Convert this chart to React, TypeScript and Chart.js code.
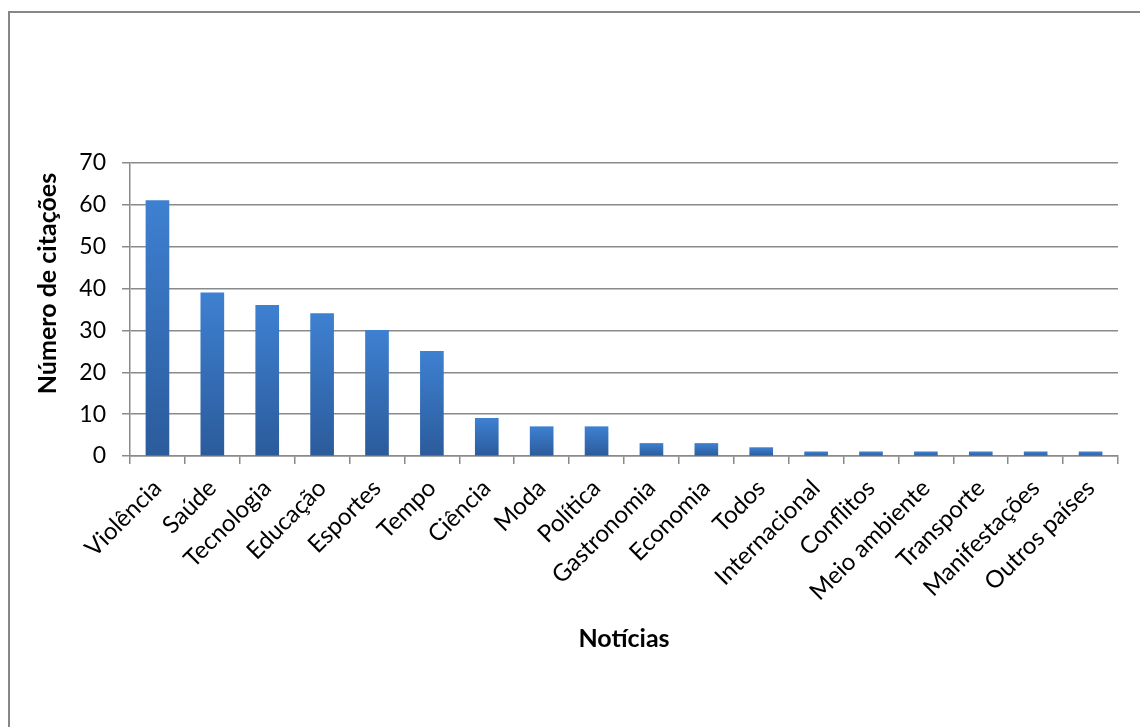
import React, { useEffect, useRef } from "react";
import { Chart, registerables } from "chart.js";

Chart.register(...registerables);

const categories = [
  "Violência",
  "Saúde",
  "Tecnologia",
  "Educação",
  "Esportes",
  "Tempo",
  "Ciência",
  "Moda",
  "Política",
  "Gastronomia",
  "Economia",
  "Todos",
  "Internacional",
  "Conflitos",
  "Meio ambiente",
  "Transporte",
  "Manifestações",
  "Outros países",
];
const citations = [61, 39, 36, 34, 30, 25, 9, 7, 7, 3, 3, 2, 1, 1, 1, 1, 1, 1];
const yMin = 0;
const yMax = 70;
const yStep = 10;
const xTitle = "Notícias";
const yTitle = "Número de citações";

const FONT = "Lato";
const GRID = "#8a8a8a";

const titlePlugin = {
  id: "axisTitles",
  afterDraw(chart: any) {
    const { ctx, chartArea } = chart;
    ctx.save();
    ctx.font = `bold 25px ${FONT}`;
    ctx.fillStyle = "#000";
    ctx.textAlign = "center";
    ctx.textBaseline = "middle";
    ctx.fillText(xTitle, (chartArea.left + chartArea.right) / 2, 639);
    ctx.translate(48, 283.5);
    ctx.rotate(-Math.PI / 2);
    ctx.fillText(yTitle, 0, 0);
    ctx.restore();
  },
};

export default function App() {
  const ref = useRef<HTMLCanvasElement | null>(null);
  useEffect(() => {
    if (!ref.current) return;
    const chart = new Chart(ref.current, {
      type: "bar",
      data: {
        labels: categories,
        datasets: [
          {
            data: citations,
            backgroundColor: (c: any) => {
              const ch = c.chart;
              const ys = ch.scales?.y;
              if (!ys || c.type !== "data") return "#3a78c6";
              const v = c.raw as number;
              const top = ys.getPixelForValue(v);
              const bottom = ys.getPixelForValue(0);
              if (!isFinite(top) || !isFinite(bottom) || bottom - top < 1) return "#3a78c6";
              const g = ch.ctx.createLinearGradient(0, top, 0, bottom);
              g.addColorStop(0, "#3e80d1");
              g.addColorStop(1, "#2b5b9b");
              return g;
            },
            borderWidth: 0,
            barThickness: 23,
          },
        ],
      },
      options: {
        responsive: false,
        animation: false,
        maintainAspectRatio: false,
        layout: { padding: { top: 163, right: 22, left: 0, bottom: 0 } },
        plugins: {
          legend: { display: false },
          tooltip: { enabled: false },
          title: { display: false },
        },
        scales: {
          x: {
            afterFit: (s: any) => {
              s.height = 271;
            },
            grid: {
              display: true,
              drawOnChartArea: false,
              drawTicks: true,
              tickLength: 8,
              color: GRID,
              lineWidth: 1.5,
              offset: true,
            },
            border: { display: true, color: GRID, width: 1.5 },
            ticks: {
              maxRotation: 45,
              minRotation: 45,
              autoSkip: false,
              padding: 10,
              color: "#000",
              font: { family: FONT, size: 24 },
            },
          },
          y: {
            min: yMin,
            max: yMax,
            afterFit: (s: any) => {
              s.width = 130;
            },
            grid: {
              color: GRID,
              lineWidth: 1.5,
              drawTicks: true,
              tickLength: 8,
            },
            border: { display: true, color: GRID, width: 1.5 },
            ticks: {
              stepSize: yStep,
              padding: 16,
              color: "#000",
              font: { family: FONT, size: 23 },
            },
          },
        },
      },
      plugins: [titlePlugin],
    });
    return () => chart.destroy();
  }, []);

  return (
    <div style={{ position: "absolute", left: 0, top: 0, width: 1140, height: 727, overflow: "hidden", background: "#fff" }}>
      <div
        style={{
          position: "absolute",
          left: 8,
          top: 11,
          width: 1160,
          height: 760,
          border: "2px solid #878787",
        }}
      />
      <canvas ref={ref} width={1140} height={727} style={{ position: "absolute", left: 0, top: 0 }} />
    </div>
  );
}
